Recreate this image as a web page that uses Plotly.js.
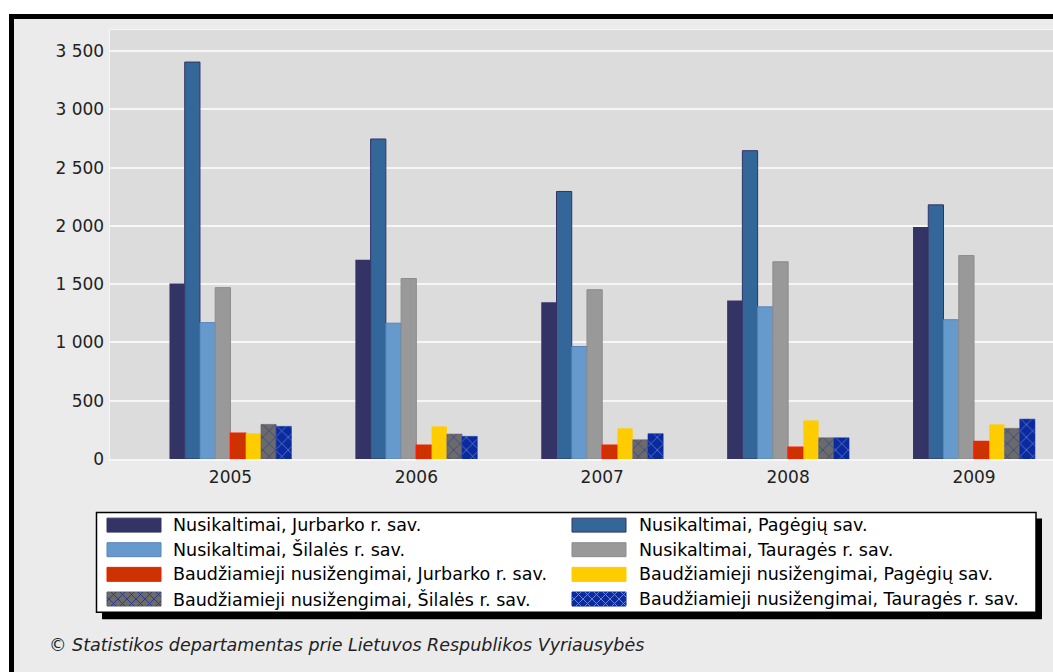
<!DOCTYPE html>
<html>
<head>
<meta charset="utf-8">
<script src="https://cdn.plot.ly/plotly-3.0.1.min.js"></script>
<style>
  html, body { margin: 0; padding: 0; background: #ffffff; }
  #chart { width: 1053px; height: 672px; }
</style>
</head>
<body>
<div id="chart"></div>
<script>
// ---- data ----
const years = ['2005', '2006', '2007', '2008', '2009'];

const seriesNames = [
  'Nusikaltimai, Jurbarko r. sav.',
  'Nusikaltimai, Pagėgių sav.',
  'Nusikaltimai, Šilalės r. sav.',
  'Nusikaltimai, Tauragės r. sav.',
  'Baudžiamieji nusižengimai, Jurbarko r. sav.',
  'Baudžiamieji nusižengimai, Pagėgių sav.',
  'Baudžiamieji nusižengimai, Šilalės r. sav.',
  'Baudžiamieji nusižengimai, Tauragės r. sav.'
];

const nusikaltimaiJurbarko = [1505, 1710, 1345, 1360, 1990];
const nusikaltimaiPagegiu  = [3405, 2745, 2295, 2645, 2180];
const nusikaltimaiSilales  = [1170, 1165, 965, 1305, 1195];
const nusikaltimaiTaurages = [1470, 1548, 1452, 1692, 1745];
const nusizengimaiJurbarko = [220, 117, 117, 100, 150];
const nusizengimaiPagegiu  = [220, 280, 263, 331, 297];
const nusizengimaiSilales  = [297, 214, 165, 182, 263];
const nusizengimaiTaurages = [280, 194, 217, 182, 342];

const yTickVals = [0, 500, 1000, 1500, 2000, 2500, 3000, 3500];
const footerText = '© Statistikos departamentas prie Lietuvos Respublikos Vyriausybės';

// ---- styles ----
const styles = [
  {color: '#333366', line: '#333366', lw: 0},
  {color: '#336699', line: '#333366', lw: 1},
  {color: '#6699cc', line: '#5a84b8', lw: 1},
  {color: '#999999', line: '#8c8c8c', lw: 1},
  {color: '#cc3300', line: '#ff1a00', lw: 1.5},
  {color: '#ffcc00', line: '#ffcc00', lw: 0},
  {color: '#6b6b6b', line: '#5c5c6c', lw: 0.5, pattern: {shape: 'x', bgcolor: '#6b6b6b', fgcolor: '#2c3c8c', size: 9, solidity: 0.15, fillmode: 'replace'}},
  {color: '#0a2a9e', line: '#0a2a9e', lw: 0.5, pattern: {shape: 'x', bgcolor: '#0a2a9e', fgcolor: '#6a86d6', size: 9, solidity: 0.15, fillmode: 'replace'}}
];

const allValues = [
  nusikaltimaiJurbarko, nusikaltimaiPagegiu, nusikaltimaiSilales, nusikaltimaiTaurages,
  nusizengimaiJurbarko, nusizengimaiPagegiu, nusizengimaiSilales, nusizengimaiTaurages
];

const traces = allValues.map((vals, i) => {
  const s = styles[i];
  const marker = {color: s.color, line: {color: s.line, width: s.lw}};
  if (s.pattern) marker.pattern = s.pattern;
  return {
    type: 'bar', x: years, y: vals, name: seriesNames[i],
    marker: marker, hoverinfo: 'x+y+name'
  };
});

// ---- geometry helpers (pixel -> paper) ----
const L = 110, R = 1053, T = 30, B = 459.5;
const X = px => (px - L) / (R - L);
const Y = py => (B - py) / (B - T);

const shapes = [];
const annotations = [];

// white strips outside the frame
shapes.push({type: 'rect', xref: 'paper', yref: 'paper', x0: X(-5), x1: X(1060), y0: Y(14), y1: Y(-5), fillcolor: '#ffffff', line: {width: 0}, layer: 'above'});
shapes.push({type: 'rect', xref: 'paper', yref: 'paper', x0: X(-5), x1: X(9), y0: Y(680), y1: Y(-5), fillcolor: '#ffffff', line: {width: 0}, layer: 'above'});
// black frame
shapes.push({type: 'line', xref: 'paper', yref: 'paper', x0: X(9), x1: X(1060), y0: Y(16.5), y1: Y(16.5), line: {color: '#000000', width: 5}});
shapes.push({type: 'line', xref: 'paper', yref: 'paper', x0: X(11.5), x1: X(11.5), y0: Y(14), y1: Y(680), line: {color: '#000000', width: 5}});

// legend box with shadow
shapes.push({type: 'rect', xref: 'paper', yref: 'paper', x0: X(102), x1: X(1042), y0: Y(620), y1: Y(519), fillcolor: '#000000', line: {width: 0}});
shapes.push({type: 'rect', xref: 'paper', yref: 'paper', x0: X(96.5), x1: X(1036), y0: Y(613), y1: Y(513), fillcolor: '#ffffff', line: {color: '#000000', width: 1.5}});

const rowY = [525.7, 550.3, 575, 599.7];
const colSwX = [107, 572];
const colTxtX = [171, 637];
const swW = 54, swH = 14;

function hatchPath(x0, y0, w, h, step) {
  let p = '';
  for (let k = -h; k < w; k += step) {
    let ax = k, ay = h, bx = k + h, by = 0;
    if (ax < 0) { ay = h + ax; ax = 0; }
    if (bx > w) { by = bx - w; bx = w; }
    if (ax < bx) p += `M${X(x0+ax)},${Y(y0+ay)}L${X(x0+bx)},${Y(y0+by)}`;
    let cx = k, cy = 0, dx = k + h, dy = h;
    if (cx < 0) { cy = -cx; cx = 0; }
    if (dx > w) { dy = h - (dx - w); dx = w; }
    if (cx < dx) p += `M${X(x0+cx)},${Y(y0+cy)}L${X(x0+dx)},${Y(y0+dy)}`;
  }
  return p;
}

seriesNames.forEach((name, i) => {
  const row = Math.floor(i / 2), col = i % 2;
  const s = styles[i];
  const cy = rowY[row];
  const sx = colSwX[col];
  const sy = cy - swH / 2;
  shapes.push({type: 'rect', xref: 'paper', yref: 'paper',
    x0: X(sx), x1: X(sx + swW), y0: Y(sy + swH), y1: Y(sy),
    fillcolor: s.color, line: {color: s.lw ? s.line : s.color, width: 1}});
  if (s.pattern) {
    shapes.push({type: 'path', xref: 'paper', yref: 'paper',
      path: hatchPath(sx, sy, swW, swH, 9), line: {color: s.pattern.fgcolor, width: 1}});
  }
  annotations.push({xref: 'paper', yref: 'paper', x: X(colTxtX[col]), y: Y(cy),
    xanchor: 'left', yanchor: 'middle', showarrow: false, text: name,
    font: {family: 'DejaVu Sans', size: 17.5, color: '#000000'}});
});

annotations.push({xref: 'paper', yref: 'paper', x: X(47), y: Y(646), xanchor: 'left', yanchor: 'middle',
  showarrow: false, text: '<i>' + footerText + '</i>',
  font: {family: 'DejaVu Sans', size: 17.5, color: '#222222'}});

const layout = {
  width: 1053, height: 672,
  margin: {l: L, r: 0, t: T, b: 672 - B, pad: 0},
  paper_bgcolor: '#ebebeb',
  plot_bgcolor: '#dcdcdc',
  showlegend: false,
  barmode: 'group',
  bargap: 0.344,
  bargroupgap: 0,
  separators: ', ',
  font: {family: 'DejaVu Sans', size: 17, color: '#222222'},
  xaxis: {
    type: 'category', range: [-0.648, 4.425], showgrid: false, zeroline: false,
    showline: true, linecolor: '#f6f6f6', linewidth: 1.5, mirror: true,
    ticks: '', ticklabelstandoff: 2, tickfont: {family: 'DejaVu Sans', size: 17, color: '#222222'}
  },
  yaxis: {
    range: [0, 3680], tickvals: yTickVals, tickformat: ',d', showgrid: true,
    gridcolor: '#f6f6f6', gridwidth: 2, zeroline: false,
    showline: true, linecolor: '#f6f6f6', linewidth: 1.5,
    ticks: '', ticklabelstandoff: 1, tickfont: {family: 'DejaVu Sans', size: 17, color: '#222222'}
  },
  shapes: shapes,
  annotations: annotations
};

Plotly.newPlot('chart', traces, layout, {displayModeBar: false, staticPlot: true});
</script>
</body>
</html>
